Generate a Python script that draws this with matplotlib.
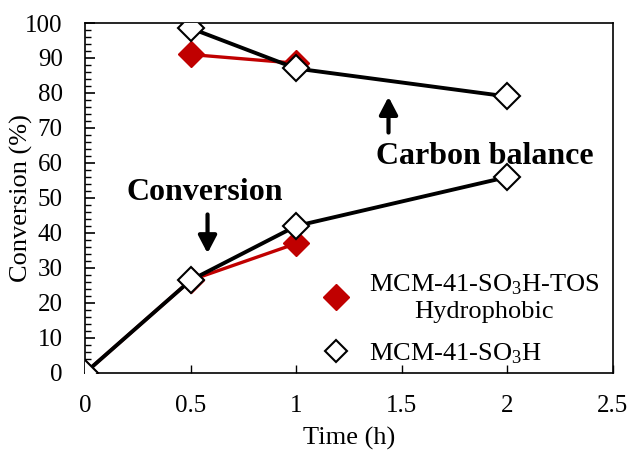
import matplotlib.pyplot as plt
from matplotlib.lines import Line2D

plt.rcParams['font.family'] = ['Liberation Serif', 'DejaVu Serif']
plt.rcParams['mathtext.fontset'] = 'custom'
plt.rcParams['mathtext.rm'] = 'Liberation Serif'
plt.rcParams['mathtext.it'] = 'Liberation Serif:italic'

# time points (h)
t_tos = [0, 0.5, 1]
t_ref = [0, 0.5, 1, 2]
t_cb_tos = [0.5, 1]
t_cb_ref = [0.5, 1, 2]

# conversion (%)
conv_tos = [0, 26.5, 37]
conv_ref = [0, 26.5, 42, 56]

# carbon balance (%)
cb_tos = [91, 88.5]
cb_ref = [98.5, 87, 79]

red = '#C00000'
lab_tos = 'MCM-41-SO$_3$H-TOS\nHydrophobic'
lab_ref = 'MCM-41-SO$_3$H'

fig = plt.figure(figsize=(6.3, 4.51), dpi=100)
ax = fig.add_axes([0.135, 0.173, 0.838, 0.776])

ax.plot(t_tos, conv_tos, color=red, lw=2.4, marker='D', ms=13.5,
        mfc=red, mec=red, zorder=3)
ax.plot(t_cb_tos, cb_tos, color=red, lw=2.4, marker='D', ms=13.5,
        mfc=red, mec=red, zorder=3)
ax.plot(t_ref, conv_ref, color='black', lw=2.8, marker='D', ms=13.5,
        mfc='white', mec='black', mew=1.5, zorder=4)
ax.plot(t_cb_ref, cb_ref, color='black', lw=2.8, marker='D', ms=13.5,
        mfc='white', mec='black', mew=1.5, zorder=4)

ax.set_xlim(0, 2.5)
ax.set_ylim(0, 100)
ax.set_xticks([0, 0.5, 1, 1.5, 2, 2.5])
ax.set_xticklabels(['0', '0.5', '1', '1.5', '2', '2.5'])
ax.set_yticks(range(0, 101, 10))
ax.set_yticks(range(0, 101, 2), minor=True)
ax.tick_params(axis='x', direction='in', length=6, width=1, labelsize=18, pad=16)
ax.tick_params(axis='y', which='major', direction='in', length=7, width=1.2,
               labelsize=18, pad=16)
ax.tick_params(axis='y', which='minor', direction='in', length=4, width=1)
ax.tick_params(axis='x', which='minor', bottom=False)
for s in ax.spines.values():
    s.set_linewidth(1.2)

ax.set_xlabel('Time (h)', fontsize=19, labelpad=7)
ax.set_ylabel('Conversion (%)', fontsize=19, labelpad=-5.5)

arrow_kw = dict(arrowstyle='-|>,head_width=0.55,head_length=1.05',
                color='black', lw=3.0, shrinkA=0, shrinkB=0)
ax.text(0.567, 51.6, 'Conversion', fontsize=23, fontweight='bold', ha='center', va='center')
ax.annotate('', xy=(0.58, 34.2), xytext=(0.58, 45.3), arrowprops=arrow_kw)
ax.text(1.895, 61.8, 'Carbon balance', fontsize=23, fontweight='bold', ha='center', va='center')
ax.annotate('', xy=(1.437, 78.9), xytext=(1.437, 68.7), arrowprops=arrow_kw)

handles = [
    Line2D([], [], ls='none', marker='D', ms=13, mfc=red, mec=red),
    Line2D([], [], ls='none', marker='D', ms=11, mfc='white', mec='black', mew=1.5),
]
leg = ax.legend(handles, [lab_tos, lab_ref], loc='center', bbox_to_anchor=(0.712, 0.153),
                frameon=False, fontsize=19, handletextpad=0.75, labelspacing=0.7,
                handlelength=1.0, borderpad=0)
for txt in leg.get_texts():
    txt.set_multialignment('center')

fig.savefig('out.png', dpi=100)
